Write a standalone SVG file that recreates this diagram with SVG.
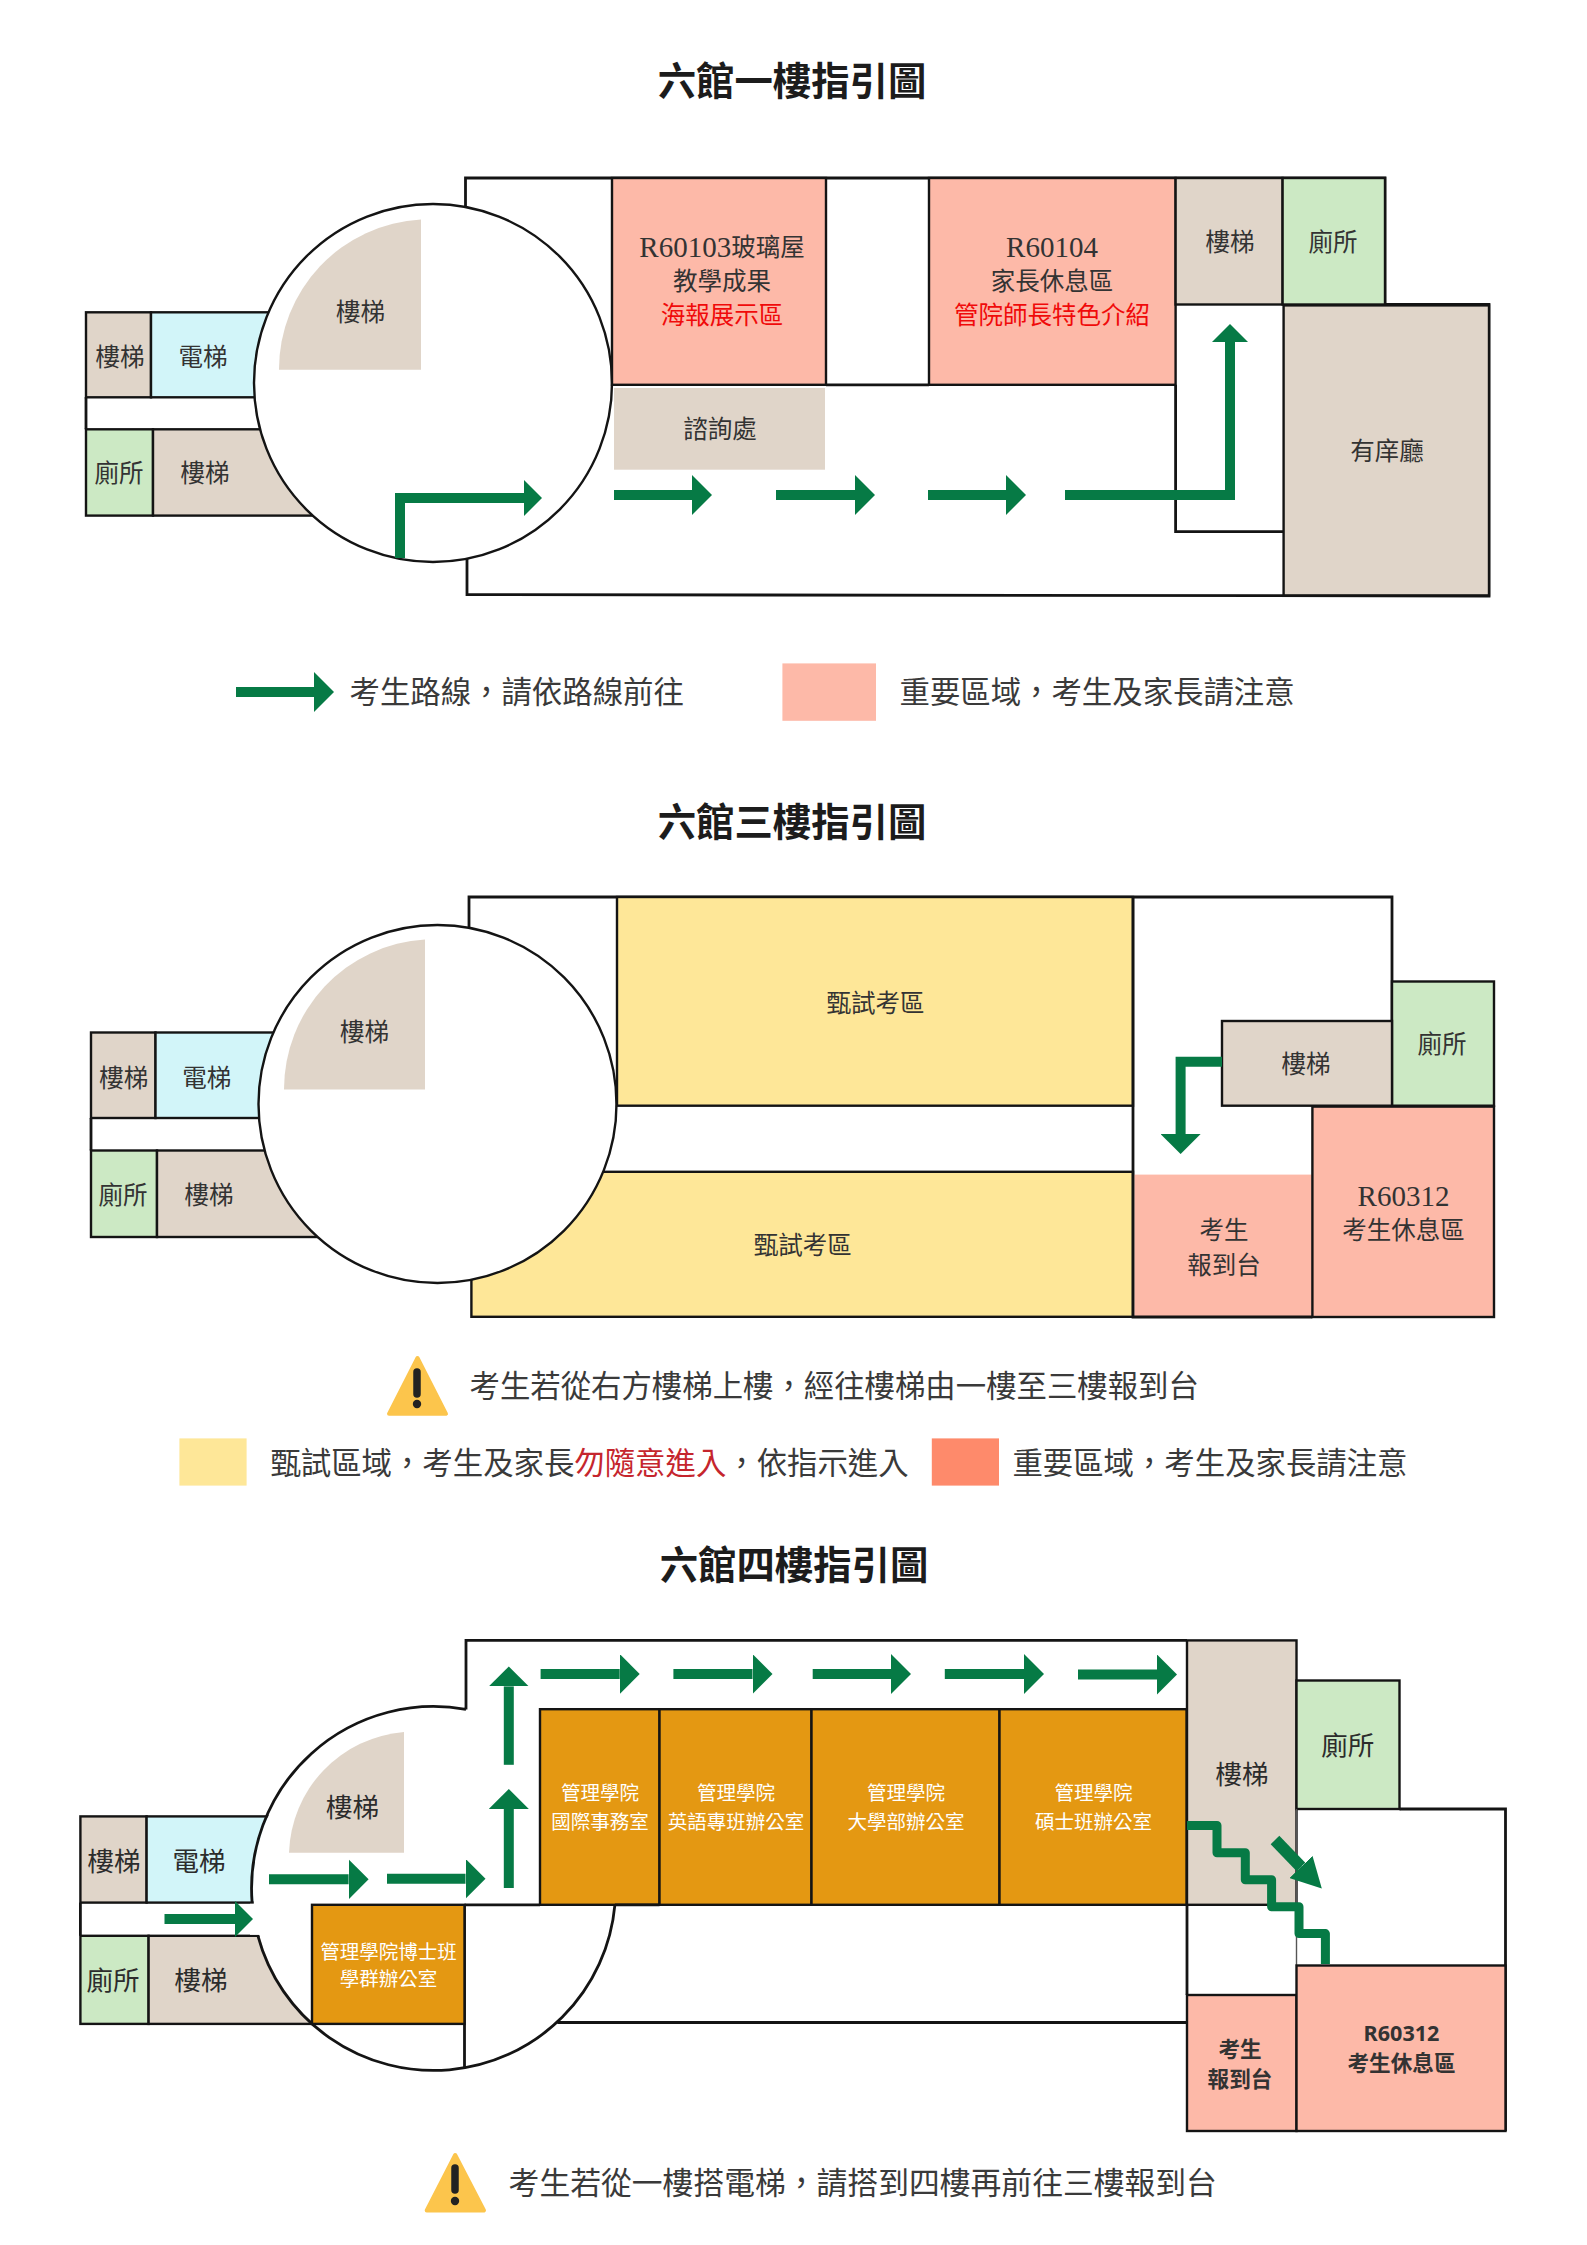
<svg xmlns="http://www.w3.org/2000/svg" width="1587" height="2245" viewBox="0 0 1587 2245">
<style>
text{font-family:"Liberation Serif","Noto Sans CJK TC",serif;text-anchor:middle;dominant-baseline:central;fill:#333;font-size:24.5px;transform:translate(0,0.7px)}
.title{font-size:38.4px;font-weight:700;fill:#1c1c1c}
.leg{font-size:30.4px;text-anchor:start;fill:#3a3a3a}
.lat{font-size:29px}
.red{fill:#f00a0a}
.dred{fill:#c5252d}
.wh{fill:#fff;font-size:19.5px}
.big{font-size:26.5px;fill:#2c2c2c}
.sb{font-family:"Noto Sans","Noto Sans CJK TC",sans-serif;font-weight:700;font-size:21.6px}
.beige{fill:#e0d5c9}.cyan{fill:#d2f5f9}.green{fill:#cce9c4}.pink{fill:#fdb9a8}.yellow{fill:#fee798}.orange{fill:#e49812}.coral{fill:#fe8a6b}.white{fill:#fff}
.w{stroke:#141414;stroke-width:2.4}
.wall{fill:none;stroke:#141414;stroke-width:2.8;stroke-linejoin:miter}
.thin{fill:none;stroke:#555;stroke-width:1.4}
.route{fill:none;stroke:#067a45;stroke-width:10}
.warn{fill:#fcc54c;stroke:#fcc54c;stroke-width:4;stroke-linejoin:round}
.bang{stroke:#222;stroke-width:7.5;stroke-linecap:round}
</style>
<defs>
<marker id="head" markerUnits="userSpaceOnUse" markerWidth="20" markerHeight="40" viewBox="0 0 20 40" refX="0" refY="20" orient="auto"><polygon points="0,0 20,20 0,40" fill="#067a45"/></marker>
<marker id="headS" markerUnits="userSpaceOnUse" markerWidth="18" markerHeight="36" viewBox="0 0 18 36" refX="0" refY="18" orient="auto"><polygon points="0,0 18,18 0,36" fill="#067a45"/></marker>
<marker id="headD" markerUnits="userSpaceOnUse" markerWidth="30" markerHeight="32" viewBox="0 0 30 32" refX="0" refY="16" orient="auto"><polygon points="0,0 30,16 0,32" fill="#067a45"/></marker>
</defs>
<rect width="1587" height="2245" fill="#fff"/>

<g id="floor1">
<text class="title" x="792" y="81">六館一樓指引圖</text>
<path class="wall" d="M465.5 215V178H1385V304.5H1489V596L467 594.6V550"/>
<g id="f1-left-stair1"><rect class="beige w" x="86" y="312.3" width="65" height="85"/><text x="120" y="357">樓梯</text></g>
<g id="f1-elevator"><rect class="cyan w" x="151" y="312.3" width="120" height="85"/><text x="203" y="357">電梯</text></g>
<g id="f1-left-toilet"><rect class="green w" x="86" y="429.3" width="67" height="86.3"/><text x="119" y="473">廁所</text></g>
<g id="f1-left-stair2"><rect class="beige w" x="153" y="429.3" width="165" height="86.3"/><text x="205" y="473">樓梯</text></g>
<line class="wall" x1="86" y1="397.2" x2="86" y2="429.3"/>
<circle id="f1-rotunda" class="white w" cx="433" cy="383" r="179"/>
<g id="f1-round-stair"><path class="beige" d="M279 369.7A150 150 0 0 1 421 219.6V369.7Z"/><text x="360.5" y="311.4">樓梯</text></g>
<g id="f1-r60103"><rect class="pink w" x="612" y="178" width="214" height="206.8"/><text x="722" y="246.6"><tspan class="lat">R60103</tspan>玻璃屋</text><text x="722" y="281">教學成果</text><text class="red" x="722" y="314.6">海報展示區</text></g>
<g id="f1-info"><rect class="beige" x="614" y="388" width="211" height="81.7"/><text x="720" y="429.3">諮詢處</text></g>
<g id="f1-r60104"><rect class="pink w" x="929" y="178" width="246.6" height="206.8"/><text class="lat" x="1052" y="246.6">R60104</text><text x="1052" y="281">家長休息區</text><text class="red" x="1052" y="314.6">管院師長特色介紹</text></g>
<line class="wall" x1="826" y1="384.8" x2="929" y2="384.8"/>
<g id="f1-right-stair"><rect class="beige w" x="1175.6" y="178" width="107" height="126.5"/><text x="1230" y="242">樓梯</text></g>
<g id="f1-right-toilet"><rect class="green w" x="1282.6" y="178" width="102.4" height="126.5"/><text x="1333" y="242">廁所</text></g>
<path class="wall" d="M1175.6 384.8V531.7H1283.6"/>
<g id="f1-hall"><rect class="beige w" x="1283.6" y="305.4" width="205.4" height="290"/><text x="1387" y="451">有庠廳</text></g>
<g id="f1-legend"><rect class="pink" x="782.4" y="663.4" width="93.6" height="57.4"/><text class="leg" x="349.5" y="692">考生路線，請依路線前往</text><text class="leg" x="899.5" y="692">重要區域，考生及家長請注意</text></g>
</g>

<g id="floor3">
<text class="title" x="792" y="822.5">六館三樓指引圖</text>
<path class="wall" d="M469 930V897H1392V1021"/>
<g id="f3-left-stair1"><rect class="beige w" x="91" y="1032.5" width="64.500" height="85.500"/><text x="123.700" y="1077.800">樓梯</text></g>
<g id="f3-elevator"><rect class="cyan w" x="155.500" y="1032.500" width="120" height="85.500"/><text x="206.800" y="1077.800">電梯</text></g>
<g id="f3-left-toilet"><rect class="green w" x="91" y="1150.500" width="66" height="86.500"/><text x="123" y="1194.400">廁所</text></g>
<g id="f3-left-stair2"><rect class="beige w" x="157" y="1150.500" width="165" height="86.500"/><text x="209" y="1194.400">樓梯</text></g>
<line class="wall" x1="91" y1="1118" x2="91" y2="1150.500"/>
<g id="f3-exam-south"><rect class="yellow w" x="471.400" y="1171.800" width="661.600" height="145"/><text x="802.700" y="1245">甄試考區</text></g>
<circle id="f3-rotunda" class="white w" cx="437.500" cy="1104" r="179"/>
<g id="f3-round-stair"><path class="beige" d="M284 1089.600A150 150 0 0 1 425 939.500V1089.600Z"/><text x="364.500" y="1031.600">樓梯</text></g>
<g id="f3-exam-north"><rect class="yellow w" x="617" y="897" width="516" height="208.700"/><text x="875.600" y="1002.800">甄試考區</text></g>
<g id="f3-checkin"><rect class="pink" x="1134.300" y="1174.600" width="177.500" height="142.400"/><text x="1224" y="1229.800">考生</text><text x="1224" y="1264.700">報到台</text></g>
<g id="f3-r60312"><rect class="pink w" x="1312.400" y="1106.600" width="181.600" height="210.400"/><text class="lat" x="1403.500" y="1195.400">R60312</text><text x="1403.500" y="1229.800">考生休息區</text></g>
<path class="wall" d="M1133 897V1317H1312.400"/>
<g id="f3-toilet"><rect class="green w" x="1392" y="981.500" width="102" height="124.200"/><text x="1442" y="1044.300">廁所</text></g>
<g id="f3-stair"><rect class="beige w" x="1222" y="1021" width="170" height="84.700"/><text x="1306" y="1064">樓梯</text></g>
<g id="f3-warning"><path class="warn" d="M417.500 1358L446 1413.800H389Z"/><line class="bang" x1="417" y1="1372" x2="417" y2="1394"/><circle cx="417" cy="1404" r="4.200" fill="#222"/><text class="leg" x="469.500" y="1386.500">考生若從右方樓梯上樓，經往樓梯由一樓至三樓報到台</text></g>
<g id="f3-legend"><rect class="yellow" x="179.400" y="1438.400" width="67.200" height="47.200"/><text class="leg" x="270.400" y="1463">甄試區域，考生及家長<tspan class="dred">勿隨意進入</tspan>，依指示進入</text><rect class="coral" x="931.800" y="1438.400" width="67.200" height="47.200"/><text class="leg" x="1012.400" y="1463">重要區域，考生及家長請注意</text></g>
</g>

<g id="floor4">
<text class="title" x="794" y="1565.600">六館四樓指引圖</text>
<g id="f4-left-stair1"><rect class="beige w" x="80.400" y="1816.400" width="66.200" height="86.200"/><text class="big" x="114" y="1861">樓梯</text></g>
<g id="f4-elevator"><rect class="cyan w" x="146.600" y="1816.400" width="130" height="86.200"/><text class="big" x="199" y="1861">電梯</text></g>
<g id="f4-left-toilet"><rect class="green w" x="80.400" y="1935.800" width="68.200" height="88.100"/><text class="big" x="113" y="1980.500">廁所</text></g>
<g id="f4-left-stair2"><rect class="beige w" x="148.600" y="1935.800" width="165" height="88.100"/><text class="big" x="201" y="1980.500">樓梯</text></g>
<line class="wall" x1="80.400" y1="1902.600" x2="80.400" y2="1935.800"/>
<circle class="white" cx="433.600" cy="1888.500" r="180.500"/>
<rect class="white" x="250" y="1903.800" width="12" height="31"/>
<path class="wall" d="M466 1709.400V1640.400H1187M252.100 1902.600A182 182 0 0 1 466 1709.400M257.900 1935.800A182 182 0 0 0 614.900 1904.800M557.500 2022.500H1187M464.500 1904.800V2067.200"/>
<g id="f4-round-stair"><path class="beige" d="M289 1852.800A125 125 0 0 1 404 1732V1852.800Z"/><text class="big" x="352.500" y="1807.700">樓梯</text></g>
<g id="f4-phd"><rect class="orange w" x="312" y="1904.800" width="152.500" height="119.100"/><text class="wh" x="388.400" y="1951.800">管理學院博士班</text><text class="wh" x="388.400" y="1978.700">學群辦公室</text></g>
<g id="f4-intl"><rect class="orange w" x="540" y="1709.200" width="119.500" height="195.600"/><text class="wh" x="600" y="1793">管理學院</text><text class="wh" x="600" y="1821.400">國際事務室</text></g>
<g id="f4-english"><rect class="orange w" x="659.500" y="1709.200" width="152" height="195.600"/><text class="wh" x="736" y="1793">管理學院</text><text class="wh" x="736" y="1821.400">英語專班辦公室</text></g>
<g id="f4-undergrad"><rect class="orange w" x="811.500" y="1709.200" width="188" height="195.600"/><text class="wh" x="906" y="1793">管理學院</text><text class="wh" x="906" y="1821.400">大學部辦公室</text></g>
<g id="f4-master"><rect class="orange w" x="999.500" y="1709.200" width="187.100" height="195.600"/><text class="wh" x="1093.500" y="1793">管理學院</text><text class="wh" x="1093.500" y="1821.400">碩士班辦公室</text></g>
<line class="wall" x1="464.500" y1="1904.800" x2="540" y2="1904.800"/>
<line class="wall" x1="659.500" y1="1904.800" x2="614.900" y2="1904.800"/>
<g id="f4-stair"><rect class="beige w" x="1187" y="1640.400" width="109.500" height="264.400"/><text class="big" x="1242" y="1774">樓梯</text></g>
<g id="f4-toilet"><rect class="green w" x="1296.500" y="1680.500" width="103" height="128.500"/><text class="big" x="1347.700" y="1745">廁所</text></g>
<path class="wall" d="M1399.500 1809H1505.500V2131M1187 1904.800V1995"/>
<line class="thin" x1="1296.500" y1="1809" x2="1296.500" y2="1965.500"/>
<g id="f4-checkin"><rect class="pink w" x="1187" y="1995" width="109.500" height="136"/><text class="sb" x="1240" y="2047.600">考生</text><text class="sb" x="1240" y="2078">報到台</text></g>
<g id="f4-r60312"><rect class="pink w" x="1296.500" y="1965.500" width="209" height="165.500"/><text class="sb" x="1401.500" y="2032">R60312</text><text class="sb" x="1401.500" y="2061.500">考生休息區</text></g>
<g id="f4-warning"><path class="warn" d="M455.200 2155L484 2210.500H426.700Z"/><line class="bang" x1="455" y1="2168" x2="455" y2="2190"/><circle cx="455" cy="2201" r="4.200" fill="#222"/><text class="leg" x="508.600" y="2183.500" style="font-size:30.800px">考生若從一樓搭電梯，請搭到四樓再前往三樓報到台</text></g>
</g>

<g id="connectors">
<path class="route" d="M400 558V498H524" marker-end="url(#headS)"/>
<path class="route" d="M614 495H692" marker-end="url(#head)"/>
<path class="route" d="M776 495H855" marker-end="url(#head)"/>
<path class="route" d="M928 495H1006" marker-end="url(#head)"/>
<path class="route" d="M1065 495H1230V342" marker-end="url(#headS)"/>
<path class="route" d="M236 692H314" marker-end="url(#head)"/>
<path class="route" d="M1222 1061.800H1180.600V1134" marker-end="url(#head)"/>
<path class="route" d="M164.500 1919H235" marker-end="url(#headS)"/>
<path class="route" d="M269 1879.300H348.600" marker-end="url(#head)"/>
<path class="route" d="M387 1878.800H465.500" marker-end="url(#head)"/>
<path class="route" d="M508.800 1888V1809" marker-end="url(#head)"/>
<path class="route" d="M508.800 1764.800V1686.400" marker-end="url(#head)"/>
<path class="route" d="M540.600 1674H619.700" marker-end="url(#head)"/>
<path class="route" d="M673.400 1674H752.500" marker-end="url(#head)"/>
<path class="route" d="M812.700 1674H891" marker-end="url(#head)"/>
<path class="route" d="M944.800 1674H1024" marker-end="url(#head)"/>
<path class="route" d="M1078 1674.500H1157" marker-end="url(#head)"/>
<path class="route" style="stroke-width:9;stroke-linejoin:round" d="M1187 1825.500H1217V1852.800H1245.300V1879.800H1271.600V1906.700H1299V1933.600H1325.400V1964"/>
<path class="route" style="stroke-width:12" d="M1275 1840L1301 1867" marker-end="url(#headD)"/>
</g>
</svg>
